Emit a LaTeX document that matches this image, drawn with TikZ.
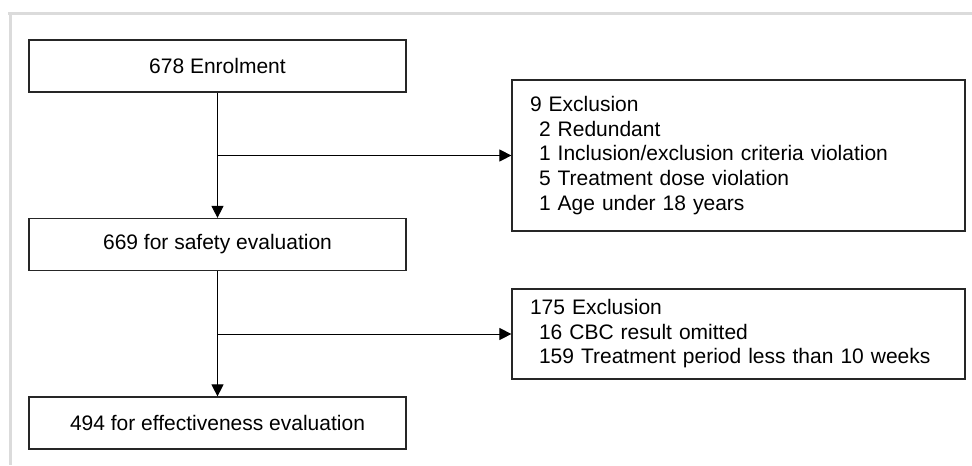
\documentclass[tikz,border=0pt]{standalone}
\usepackage{fontspec}
\setmainfont{Liberation Sans}
\usetikzlibrary{calc,arrows.meta}

\begin{document}
\begin{tikzpicture}[x=.75pt,y=-.75pt,
    mainbox/.style={draw=black!85,line width=.9pt,minimum width=282.75pt,minimum height=39pt,inner sep=0pt,font=\fontsize{15.75}{18.4}\selectfont},
    exclbox/.style={draw=black!85,line width=.9pt,text width=312.75pt,inner xsep=13.5pt,inner ysep=0pt,align=left,font=\fontsize{15.75}{18.4}\selectfont},
    flow/.style={line width=.75pt,-{Triangle[length=9pt,width=9pt]}}]

  %% Frame of the figure
  \useasboundingbox (0,0) rectangle (972,465);
  \draw[black!14,line width=2.25pt] (8,13) -- (972,13) (10,13) -- (10,465);

  %% Main boxes on the left
  \foreach \name/\y/\txt in {enrol/66/678 Enrolment,safety/244.5/669 for safety evaluation,effect/423/494 for effectiveness evaluation}{
    \node[mainbox] (\name) at (217.5,\y) {\txt};
  }

  %% Exclusion boxes on the right
  \node[exclbox,minimum height=113.25pt] (excl1) at (738.5,155.5) {9 Exclusion\\
    \hspace*{6.75pt}2 Redundant\\
    \hspace*{6.75pt}1 Inclusion/exclusion criteria violation\\
    \hspace*{6.75pt}5 Treatment dose violation\\
    \hspace*{6.75pt}1 Age under 18 years};
  \node[exclbox,minimum height=67.5pt] (excl2) at (738.5,334) {175 Exclusion\\
    \hspace*{6.75pt}16 CBC result omitted\\
    \hspace*{6.75pt}159 Treatment period less than 10 weeks};

  %% Split points on the vertical flow
  \coordinate (split1) at (enrol.south |- excl1.west);
  \coordinate (split2) at (safety.south |- excl2.west);

  %% Arrows
  \draw[flow] (enrol) -- (safety);
  \draw[flow] (safety) -- (effect);
  \draw[flow] (split1) -- (excl1);
  \draw[flow] (split2) -- (excl2);

\end{tikzpicture}
\end{document}
